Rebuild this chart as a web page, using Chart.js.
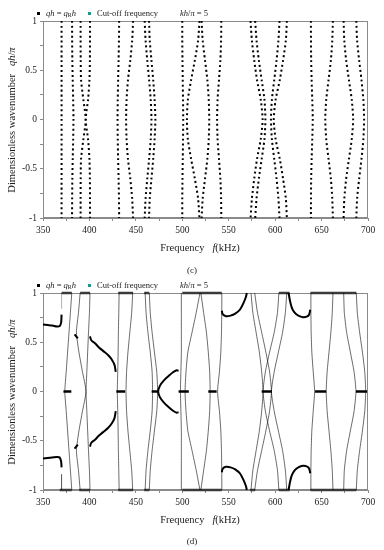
<!DOCTYPE html>
<html>
<head>
<meta charset="utf-8">
<script src="https://cdn.jsdelivr.net/npm/chart.js@4.4.1/dist/chart.umd.min.js"></script>
<style>
  body { margin: 0; background: #fff; }
  #page { position: relative; width: 384px; height: 550px; overflow: hidden;
          font-family: "Liberation Serif", "Times New Roman", serif; color: #222; }
  canvas { position: absolute; left: 20px; }
  .t { position: absolute; white-space: nowrap; line-height: 1; color: #1a1a1a; }
  .leg { font-size: 8.5px; transform: translateY(-50%); will-change: transform; }
  .sq { width: 3px; height: 3px; }
  .xt { font-size: 10.5px; transform: translate(-50%, -50%); }
  .yt { font-size: 10.5px; transform: translate(-50%, -50%) rotate(-90deg); }
  .cap { font-size: 9px; transform: translate(-50%, -50%); }
  sub { font-size: 6px; vertical-align: -1px; }
</style>
</head>
<body>
<div id="page">
  <!-- panel (c) -->
  <span class="t sq" style="left:37px;top:11.5px;background:#000"></span>
  <span class="t leg" style="left:46px;top:13px"><i>qh</i> = <i>q</i><sub>R</sub><i>h</i></span>
  <span class="t sq" style="left:88px;top:11.5px;background:#23958c"></span>
  <span class="t leg" style="left:97px;top:13px">Cut-off frequency</span>
  <span class="t leg" style="left:180px;top:13px"><i>kh</i>/<i>π</i> = 5</span>
  <canvas id="chartC" width="364" height="240" style="top:0px"></canvas>
  <div class="t yt" style="left:12px;top:119.5px">Dimensionless wavenumber&nbsp;&nbsp;&nbsp;<i>qh</i>/<i>π</i></div>
  <div class="t xt" style="left:200px;top:248px">Frequency&nbsp;&nbsp;&nbsp;<i>f</i>(kHz)</div>
  <div class="t cap" style="left:192px;top:270px">(c)</div>

  <!-- panel (d) -->
  <span class="t sq" style="left:37px;top:283.5px;background:#000"></span>
  <span class="t leg" style="left:46px;top:285px"><i>qh</i> = <i>q</i><sub>R</sub><i>h</i></span>
  <span class="t sq" style="left:88px;top:283.5px;background:#23958c"></span>
  <span class="t leg" style="left:97px;top:285px">Cut-off frequency</span>
  <span class="t leg" style="left:180px;top:285px"><i>kh</i>/<i>π</i> = 5</span>
  <canvas id="chartD" width="364" height="240" style="top:272px"></canvas>
  <div class="t yt" style="left:12px;top:391.5px">Dimensionless wavenumber&nbsp;&nbsp;&nbsp;<i>qh</i>/<i>π</i></div>
  <div class="t xt" style="left:200px;top:520px">Frequency&nbsp;&nbsp;&nbsp;<i>f</i>(kHz)</div>
  <div class="t cap" style="left:192px;top:541px">(d)</div>
</div>
<script>
// wavenumber levels shared by the branch tables (qh/pi)
const qLevels = [1, 0.8, 0.6, 0.4, 0.2, 0, -0.2, -0.4, -0.6, -0.8, -1];

// panel (c): frequency (kHz) of each dotted branch at the q levels above
const branchesC = [
  [370, 370, 370, 370, 370, 370, 370, 370, 370, 370, 370],
  [381.3, 381.4, 381.6, 382, 382.5, 382.8, 382.5, 382, 381.6, 381.4, 381.3],
  [390.5, 390.5, 390.6, 391, 393.5, 396, 393.5, 391, 390.6, 390.5, 390.5],
  [400.6, 400.6, 400.5, 400, 398.5, 396, 398.5, 400, 400.5, 400.6, 400.6],
  [432, 431.8, 431.4, 430.9, 430.5, 430.3, 430.5, 430.9, 431.4, 431.8, 432],
  [447, 446, 444, 441.5, 440, 439.5, 440, 441.5, 444, 446, 447],
  [459.5, 460.5, 462.3, 464.3, 466, 466.8, 466, 464.3, 462.3, 460.5, 459.5],
  [464.2, 465, 466.8, 468.7, 470.2, 471, 470.2, 468.7, 466.8, 465, 464.2],
  [500, 500, 500.2, 500.5, 500.8, 501, 500.8, 500.5, 500.2, 500, 500],
  [518.5, 517, 513.5, 509.5, 506, 505, 506, 509.5, 513.5, 517, 518.5],
  [520.8, 522, 524.5, 527, 528.5, 529, 528.5, 527, 524.5, 522, 520.8],
  [542, 541.8, 541, 539.5, 538, 537.5, 538, 539.5, 541, 541.8, 542],
  [573.5, 575, 577.5, 580.5, 584.5, 586.5, 584.5, 580.5, 577.5, 575, 573.5],
  [578.5, 580, 582.5, 585.5, 588.5, 589.5, 588.5, 585.5, 582.5, 580, 578.5],
  [604.7, 603.5, 601.5, 599, 596.5, 595.5, 596.5, 599, 601.5, 603.5, 604.7],
  [612.6, 611.5, 608.5, 605, 600.5, 598.5, 600.5, 605, 608.5, 611.5, 612.6],
  [638.5, 638.6, 638.8, 639.3, 640, 640.5, 640, 639.3, 638.8, 638.6, 638.5],
  [662.2, 661.5, 660, 657.5, 655, 654, 655, 657.5, 660, 661.5, 662.2],
  [673.7, 674.5, 676.5, 679.5, 682.5, 684, 682.5, 679.5, 676.5, 674.5, 673.7],
  [687.4, 688.3, 690.5, 693, 695, 695.8, 695, 693, 690.5, 688.3, 687.4]
];

// panel (d): real branches (thin lines), same q levels
const branchesD = [
  [381, 379.5, 378, 376.5, 375, 373.5, 375, 376.5, 378, 379.5, 381],
  [390, 388.2, 386, 388.7, 392.5, 396.3, 392.5, 388.7, 386, 388.2, 390],
  [400.6, 400, 399, 398.1, 397.2, 396.3, 397.2, 398.1, 399, 400, 400.6],
  [432, 431.6, 431.2, 430.9, 430.5, 430, 430.5, 430.9, 431.2, 431.6, 432],
  [446.6, 445.5, 443.5, 441.5, 440, 439.4, 440, 441.5, 443.5, 445.5, 446.6],
  [460, 461, 463, 465.5, 467.5, 468, 467.5, 465.5, 463, 461, 460],
  [464.5, 465.5, 467.5, 470, 472.5, 473.5, 472.5, 470, 467.5, 465.5, 464.5],
  [499, 499, 499, 499, 498.5, 498, 498.5, 499, 499, 499, 499],
  [519, 515, 510.5, 506, 504, 503, 504, 506, 510.5, 515, 519],
  [520, 523, 526, 528, 529.5, 530, 529.5, 528, 526, 523, 520],
  [542.6, 542.5, 542.2, 541.5, 540, 538, 540, 541.5, 542.2, 542.5, 542.6],
  [574, 576, 579.5, 583, 585.5, 587, 585.5, 583, 579.5, 576, 574],
  [578, 581, 585.5, 590, 594, 596, 594, 590, 585.5, 581, 578],
  [604, 602.5, 599, 594, 589.5, 587, 589.5, 594, 599, 602.5, 604],
  [612.5, 611, 608, 603.5, 599, 596, 599, 603.5, 608, 611, 612.5],
  [638.5, 638.5, 638.8, 639.5, 641, 642.5, 641, 639.5, 638.8, 638.5, 638.5],
  [662.3, 661.5, 660, 658, 656, 655, 656, 658, 660, 661.5, 662.3],
  [673.8, 674.5, 677, 681, 685, 687, 685, 681, 677, 674.5, 673.8],
  [687.4, 688.5, 691, 694, 696.5, 697.5, 696.5, 694, 691, 688.5, 687.4]
];

// panel (d): complex branches (thick curves)
const arc1F = [350, 355, 360, 365, 368, 369.5, 370];
const arc1Q = [0.68, 0.675, 0.67, 0.66, 0.665, 0.7, 0.78];
const arc1Qlow = [-0.68, -0.675, -0.67, -0.665, -0.67, -0.71, -0.77];
const arc2F = [400.6, 402, 406, 410, 415, 420, 424, 427, 428.3];
const arc2Q = [0.56, 0.52, 0.49, 0.45, 0.41, 0.37, 0.325, 0.27, 0.2];
const arc2Qlow = [-0.56, -0.52, -0.49, -0.45, -0.41, -0.37, -0.325, -0.27, -0.2];
const arc3F = [496, 494, 490, 485, 480, 476, 474, 476, 480, 485, 490, 494, 496];
const arc3Q = [-0.21, -0.215, -0.195, -0.155, -0.11, -0.06, 0, 0.06, 0.11, 0.155, 0.195, 0.215, 0.21];
const arc4F = [542.6, 543.5, 547, 552, 557, 562, 566, 568.5, 569.5];
const arc4Q = [0.82, 0.785, 0.765, 0.77, 0.79, 0.83, 0.9, 0.96, 1];
const arc4Qlow = [-0.82, -0.785, -0.765, -0.77, -0.79, -0.83, -0.9, -0.96, -1];
const arc5F = [614.5, 616, 618, 621, 625, 630, 634, 636.5, 637.8];
const arc5Q = [1, 0.92, 0.85, 0.8, 0.77, 0.755, 0.76, 0.78, 0.83];
const arc5Qlow = [-1, -0.92, -0.85, -0.8, -0.77, -0.755, -0.76, -0.78, -0.83];
const blobF = [384, 387.5];
const blobQ = [0.58, 0.54];
const blobQlow = [-0.58, -0.54];
const stubF = [370, 370];
const stubQ = [0.84, 1];
const stubQlow = [-0.84, -1];

// panel (d): flat bands at q = 0 and along q = +-1 (start, end kHz)
const zeroBands = [[372, 380.5], [429, 438.5], [467, 474], [496, 507], [528, 537], [585.5, 596.5], [643, 655], [687, 699]];
const topBands = [[370, 381], [390, 400.6], [431, 447], [459, 464.5], [500, 542.5], [604, 615.5], [638, 687.5]];
const bottomBands = [[368, 381], [389, 400.6], [431, 447], [459, 464.5], [500, 542.5], [573, 578.5], [604, 615.5], [638, 687.5]];

const FONT = '"Liberation Serif", "Times New Roman", serif';

function pts(fs, qs) {
    return fs.map((f, i) => ({ x: f, y: qs[i] }));
}

function line(data, color, width, extra) {
    return Object.assign({
        data: data,
        showLine: true,
        borderColor: color,
        borderWidth: width,
        pointRadius: 0,
        tension: 0,
        clip: false
    }, extra || {});
}

const frame = {
    id: 'frame',
    beforeDatasetsDraw(chart) {
        const a = chart.chartArea;
        const ctx = chart.ctx;
        ctx.save();
        ctx.strokeStyle = '#8a8a8a';
        ctx.lineWidth = 1;
        ctx.strokeRect(a.left + 0.5, a.top + 0.5, a.right - a.left - 1, a.bottom - a.top - 1);
        ctx.restore();
    }
};

function options() {
    return {
        responsive: false,
        animation: false,
        layout: { padding: { top: 21, right: 16, left: 0, bottom: 0 } },
        plugins: { legend: { display: false }, tooltip: { enabled: false } },
        scales: {
            x: {
                type: 'linear',
                min: 350,
                max: 700,
                afterFit: s => { s.height = 22; },
                ticks: {
                    stepSize: 25,
                    autoSkip: false,
                    maxRotation: 0,
                    padding: 4,
                    color: '#222',
                    font: { family: FONT, size: 9.5 },
                    callback: v => (v % 50 === 0 ? v : '')
                },
                grid: { drawOnChartArea: false, tickLength: 3, color: '#8a8a8a' },
                border: { color: '#8a8a8a' }
            },
            y: {
                type: 'linear',
                min: -1,
                max: 1,
                afterFit: s => { s.width = 23; },
                ticks: {
                    stepSize: 0.25,
                    autoSkip: false,
                    padding: 3,
                    color: '#222',
                    font: { family: FONT, size: 9.5 },
                    callback: v => (Math.abs(v * 2 - Math.round(v * 2)) < 1e-9 ? v : '')
                },
                grid: { drawOnChartArea: false, tickLength: 3, color: '#8a8a8a' },
                border: { color: '#8a8a8a' }
            }
        }
    };
}

// panel (c)
const dsC = branchesC.map(fs => line(pts(fs, qLevels), '#000', 2, {
    borderDash: [2, 2.9],
    borderCapStyle: 'butt',
    tension: 0.25
}));

new Chart(document.getElementById('chartC'), {
    type: 'scatter',
    data: { datasets: dsC },
    options: options(),
    plugins: [frame]
});

// panel (d)
const dsD = [];
branchesD.forEach(fs => dsD.push(line(pts(fs, qLevels), 'rgba(0,0,0,0.65)', 0.9, { tension: 0.2 })));
dsD.push(line(pts(stubF, stubQ), 'rgba(0,0,0,0.3)', 1));
dsD.push(line(pts(stubF, stubQlow), 'rgba(0,0,0,0.3)', 1));

const thick = [
    [arc1F, arc1Q], [arc1F, arc1Qlow],
    [arc2F, arc2Q], [arc2F, arc2Qlow],
    [arc3F, arc3Q],
    [arc4F, arc4Q], [arc4F, arc4Qlow],
    [arc5F, arc5Q], [arc5F, arc5Qlow],
    [blobF, blobQ], [blobF, blobQlow]
];
thick.forEach(([fs, qs]) => dsD.push(line(pts(fs, qs), '#000', 2, { tension: 0.3 })));

zeroBands.forEach(b => dsD.push(line(pts(b, [0, 0]), '#000', 2.5)));
topBands.forEach(b => dsD.push(line(pts(b, [1, 1]), '#3a3a3a', 2.5)));
bottomBands.forEach(b => dsD.push(line(pts(b, [-1, -1]), '#3a3a3a', 2.5)));

new Chart(document.getElementById('chartD'), {
    type: 'scatter',
    data: { datasets: dsD },
    options: options(),
    plugins: [frame]
});
</script>
</body>
</html>
